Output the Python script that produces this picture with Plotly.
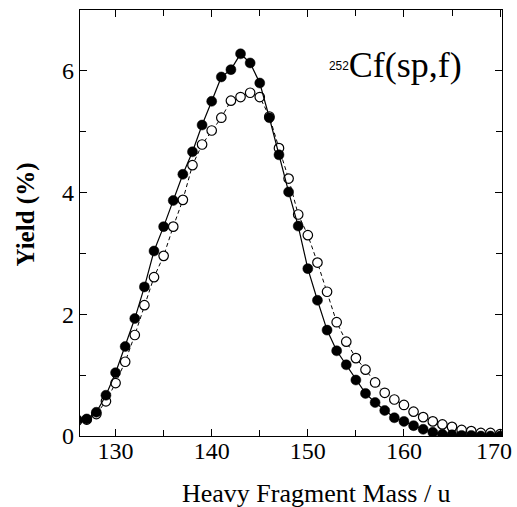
import plotly.graph_objects as go

mass = list(range(126, 171))

yield_filled = [0.27, 0.28, 0.39, 0.67, 1.04, 1.47, 1.93, 2.45, 3.04, 3.44,
                3.87, 4.30, 4.67, 5.11, 5.50, 5.90, 6.02, 6.28, 6.13, 5.80,
                5.23, 4.62, 4.01, 3.45, 2.75, 2.23, 1.74, 1.40, 1.17, 0.92,
                0.70, 0.55, 0.42, 0.30, 0.24, 0.17, 0.11, 0.06, 0.03, 0.02,
                0.01, 0.01, 0.0, 0.0, 0.0]

yield_open = [0.25, 0.27, 0.36, 0.57, 0.87, 1.22, 1.66, 2.15, 2.61, 2.96,
              3.44, 3.88, 4.45, 4.79, 5.02, 5.23, 5.51, 5.57, 5.64, 5.57,
              5.25, 4.73, 4.23, 3.64, 3.30, 2.85, 2.37, 1.87, 1.55, 1.28,
              1.09, 0.88, 0.71, 0.60, 0.51, 0.40, 0.31, 0.24, 0.19, 0.15,
              0.10, 0.08, 0.05, 0.05, 0.03]

x_ticks = [130, 140, 150, 160, 170]
x_ticktext = ["130", "140", "150", "160", "170"]
y_ticks = [0, 2, 4, 6]

serif = "Liberation Serif"

fig = go.Figure()
fig.add_trace(go.Scatter(
    x=mass, y=yield_open, mode="lines+markers",
    line=dict(color="black", width=1, dash="4px,3px"),
    marker=dict(symbol="circle", size=9.5, color="white",
                line=dict(color="black", width=1.2)),
    showlegend=False))
fig.add_trace(go.Scatter(
    x=mass, y=yield_filled, mode="lines+markers",
    line=dict(color="black", width=1.2),
    marker=dict(symbol="circle", size=10, color="black",
                line=dict(color="black", width=0.5)),
    showlegend=False))

axis_common = dict(
    showline=True, linecolor="black", linewidth=1.3, mirror="ticks",
    ticks="inside", ticklen=7, tickwidth=1, tickcolor="black",
    showgrid=False, zeroline=False, automargin=False,
    tickfont=dict(family=serif, size=24, color="black"),
)

# last tick label is drawn separately (shifted left to stay inside the page)
fig.update_xaxes(
    range=[126.3, 170.2], tickvals=x_ticks,
    ticktext=x_ticktext[:-1] + [""],
    ticklabelstandoff=-7,
    minor=dict(dtick=5, tick0=125, ticks="inside", ticklen=6, tickcolor="black", tickwidth=1),
    **axis_common)
fig.update_yaxes(
    range=[0, 7], tickvals=y_ticks,
    minor=dict(dtick=1, tick0=0, ticks="inside", ticklen=6, tickcolor="black", tickwidth=1),
    **axis_common)

fig.add_annotation(
    x=x_ticks[-1], y=0, xref="x", yref="y", xanchor="center", yanchor="middle",
    xshift=-6, yshift=-15, text=x_ticktext[-1], showarrow=False,
    font=dict(family=serif, size=24, color="black"))

# axis titles (placed as annotations to match the reference offsets)
fig.add_annotation(
    x=0.56, y=-0.135, xref="paper", yref="paper", xanchor="center", yanchor="middle",
    text="Heavy Fragment Mass / u", showarrow=False,
    font=dict(family=serif, size=26, color="black"))
fig.add_annotation(
    x=-0.128, y=0.52, xref="paper", yref="paper", xanchor="center", yanchor="middle",
    text="<b>Yield (%)</b>", textangle=-90, showarrow=False,
    font=dict(family=serif, size=25, color="black"))

fig.add_annotation(
    x=0.585, y=0.87, xref="paper", yref="paper", xanchor="left", yanchor="middle",
    text="<span style='font-family:Liberation Sans;font-size:17px'><sup>252</sup></span>Cf(sp,f)",
    showarrow=False, font=dict(family=serif, size=36, color="black"))

fig.update_layout(
    width=517, height=507,
    margin=dict(l=80, r=15, t=10, b=71, autoexpand=False),
    paper_bgcolor="white", plot_bgcolor="white",
)

fig.write_html("out.html")
